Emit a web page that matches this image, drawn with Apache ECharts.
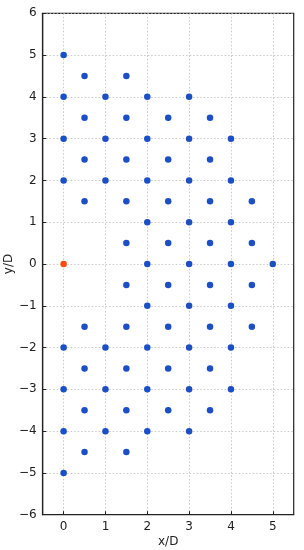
<!DOCTYPE html>
<html><head><meta charset="utf-8">
<script src="https://cdn.jsdelivr.net/npm/echarts@6/dist/echarts.min.js"></script>
<style>html,body{margin:0;padding:0;background:#fff}#c{width:304px;height:550px}</style>
</head><body><div id="c"></div>
<script>
var xTicks = [0, 1, 2, 3, 4, 5];
var yTicks = [-6, -5, -4, -3, -2, -1, 0, 1, 2, 3, 4, 5, 6];
var blueX = [0,0,0,0,0,0,0,0,
  0.5,0.5,0.5,0.5,0.5,0.5,0.5,0.5,
  1,1,1,1,1,1,
  1.5,1.5,1.5,1.5,1.5,1.5,1.5,1.5,1.5,1.5,
  2,2,2,2,2,2,2,2,2,
  2.5,2.5,2.5,2.5,2.5,2.5,2.5,2.5,
  3,3,3,3,3,3,3,3,3,
  3.5,3.5,3.5,3.5,3.5,3.5,3.5,3.5,
  4,4,4,4,4,4,4,
  4.5,4.5,4.5,4.5,
  5];
var blueY = [5,4,3,2,-2,-3,-4,-5,
  4.5,3.5,2.5,1.5,-1.5,-2.5,-3.5,-4.5,
  4,3,2,-2,-3,-4,
  4.5,3.5,2.5,1.5,0.5,-0.5,-1.5,-2.5,-3.5,-4.5,
  4,3,2,1,0,-1,-2,-3,-4,
  3.5,2.5,1.5,0.5,-0.5,-1.5,-2.5,-3.5,
  4,3,2,1,0,-1,-2,-3,-4,
  3.5,2.5,1.5,0.5,-0.5,-1.5,-2.5,-3.5,
  3,2,1,0,-1,-2,-3,
  1.5,0.5,-0.5,-1.5,
  0];
var orangeX = [0];
var orangeY = [0];

function zip(a, b) { return a.map(function (v, i) { return [v, b[i]]; }); }
function fmt(v) { return String(v).replace('-', '\u2212'); }
var font = 'DejaVu Sans';
var chart = echarts.init(document.getElementById('c'));
chart.setOption({
  animation: false,
  grid: { left: 42.7, right: 10.3, top: 13.3, bottom: 35.3, containLabel: false, outerBoundsMode: 'none',
    show: true, borderColor: '#222', borderWidth: 1.2, backgroundColor: 'transparent' },
  xAxis: {
    type: 'value', min: -0.5, max: 5.5, interval: 1,
    name: 'x/D', nameLocation: 'middle', nameGap: 21, nameMoveOverlap: false,
    nameTextStyle: { fontFamily: font, fontSize: 12, color: '#222' },
    axisLine: { show: true, onZero: false, lineStyle: { color: '#222', width: 1.2 } },
    axisTick: { show: true, inside: true, length: 3.5, lineStyle: { color: '#222' }, customValues: xTicks },
    axisLabel: { fontFamily: font, fontSize: 12, color: '#222', margin: 6, formatter: fmt, customValues: xTicks },
    splitLine: { show: true, lineStyle: { color: '#bbb', type: [1.5, 2], width: 0.8 }, customValues: xTicks }
  },
  yAxis: {
    type: 'value', min: -6, max: 6, interval: 1,
    name: 'y/D', nameLocation: 'middle', nameGap: 28, nameRotate: 90, nameMoveOverlap: false,
    nameTextStyle: { fontFamily: font, fontSize: 12, color: '#222' },
    axisLine: { show: true, onZero: false, lineStyle: { color: '#222', width: 1.2 } },
    axisTick: { show: true, inside: true, length: 3.5, lineStyle: { color: '#222' } },
    axisLabel: { fontFamily: font, fontSize: 12, color: '#222', margin: 6, formatter: fmt },
    splitLine: { show: true, lineStyle: { color: '#bbb', type: [1.5, 2], width: 0.8 } }
  },
  series: [
    { type: 'scatter', data: zip(blueX, blueY), symbolSize: 6.5, itemStyle: { color: '#1c4fc6', opacity: 1 }, z: 2 },
    { type: 'scatter', data: zip(orangeX, orangeY), symbolSize: 6.5, itemStyle: { color: '#ff4a10', opacity: 1 }, z: 3 }
  ]
});
</script></body></html>
